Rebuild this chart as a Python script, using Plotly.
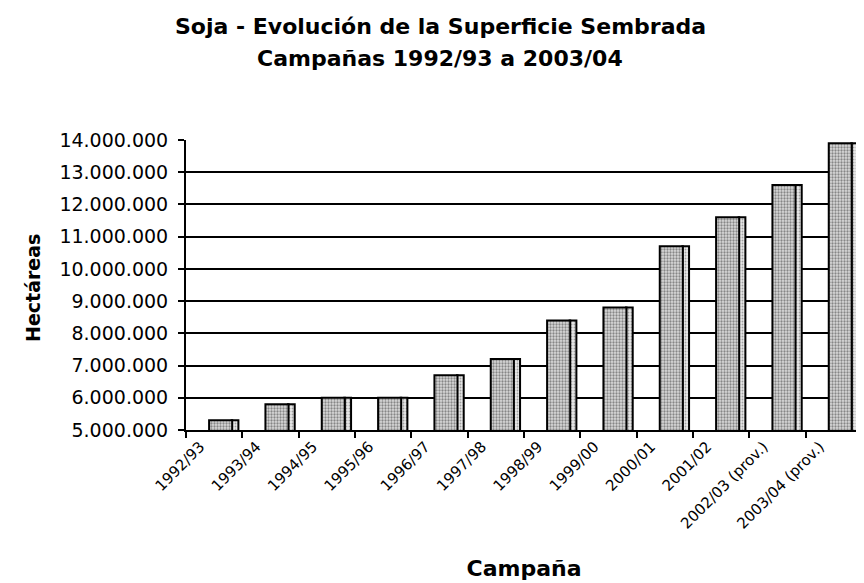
import plotly.graph_objects as go

campanas = ["1992/93", "1993/94", "1994/95", "1995/96", "1996/97", "1997/98",
            "1998/99", "1999/00", "2000/01", "2001/02", "2002/03 (prov.)", "2003/04 (prov.)"]
hectareas = [5300000, 5800000, 6000000, 6000000, 6700000, 7200000,
             8400000, 8800000, 10700000, 11600000, 12600000, 13900000]
y_ticks = [5000000, 6000000, 7000000, 8000000, 9000000, 10000000,
           11000000, 12000000, 13000000, 14000000]
title_lines = ["Soja - Evolución de la Superficie Sembrada", "Campañas 1992/93 a 2003/04"]
y_title = "Hectáreas"

FONT = "DejaVu Sans, Arial, sans-serif"

fig = go.Figure()
# side face (3D look)
fig.add_trace(go.Bar(
    x=campanas, y=hectareas,
    width=0.12, offset=0.31,
    marker=dict(color="#d8d8d8", line=dict(color="black", width=2),
                pattern=dict(shape=".", fgcolor="#555555", bgcolor="#e8e8e8", size=3, solidity=0.3)),
    hoverinfo="skip", showlegend=False,
))
# front face
fig.add_trace(go.Bar(
    x=campanas, y=hectareas,
    width=0.41, offset=-0.09,
    marker=dict(color="#cfcfcf", line=dict(color="black", width=2),
                pattern=dict(shape=".", fgcolor="#333333", bgcolor="#d9d9d9", size=3, solidity=0.45)),
    showlegend=False,
))

fig.update_layout(
    width=864, height=583,
    paper_bgcolor="white", plot_bgcolor="white",
    separators=",.",
    barmode="overlay",
    margin=dict(l=178, r=10, t=132, b=161),
    font=dict(family=FONT, color="black"),
    annotations=[
        dict(text="<b>" + title_lines[0] + "</b>", xref="paper", yref="paper",
             x=(432 - 178) / 676, y=(422 - 18) / 290, xanchor="center", yanchor="middle",
             showarrow=False, font=dict(family=FONT, size=22, color="black")),
        dict(text="<b>" + title_lines[1] + "</b>", xref="paper", yref="paper",
             x=(432 - 178) / 676, y=(422 - 50) / 290, xanchor="center", yanchor="middle",
             showarrow=False, font=dict(family=FONT, size=22, color="black")),
        dict(text="<b>" + y_title + "</b>", xref="paper", yref="paper",
             x=(25 - 178) / 676, y=(422 - 280) / 290, xanchor="center", yanchor="middle",
             textangle=-90, showarrow=False, font=dict(family=FONT, size=19, color="black")),
    ],
)
fig.update_yaxes(
    range=[5000000, 14000000], tickvals=y_ticks, tickformat=",d",
    showgrid=True, gridcolor="black", gridwidth=2,
    showline=True, linecolor="black", linewidth=2,
    ticks="outside", ticklen=6, tickwidth=2, tickcolor="black",
    ticklabelstandoff=6,
    tickfont=dict(family=FONT, size=19, color="black"),
    zeroline=False,
)
fig.update_xaxes(
    showline=True, linecolor="black", linewidth=2, mirror=False,
    ticks="outside", ticklen=6, tickwidth=2, tickcolor="black", tickson="boundaries",
    tickangle=-45, ticklabelshift=-14,
    tickfont=dict(family=FONT, size=15, color="black"),
    title=dict(text="<b>Campaña</b>", font=dict(family=FONT, size=22, color="black"), standoff=29),
)

fig.write_html("out.html")
